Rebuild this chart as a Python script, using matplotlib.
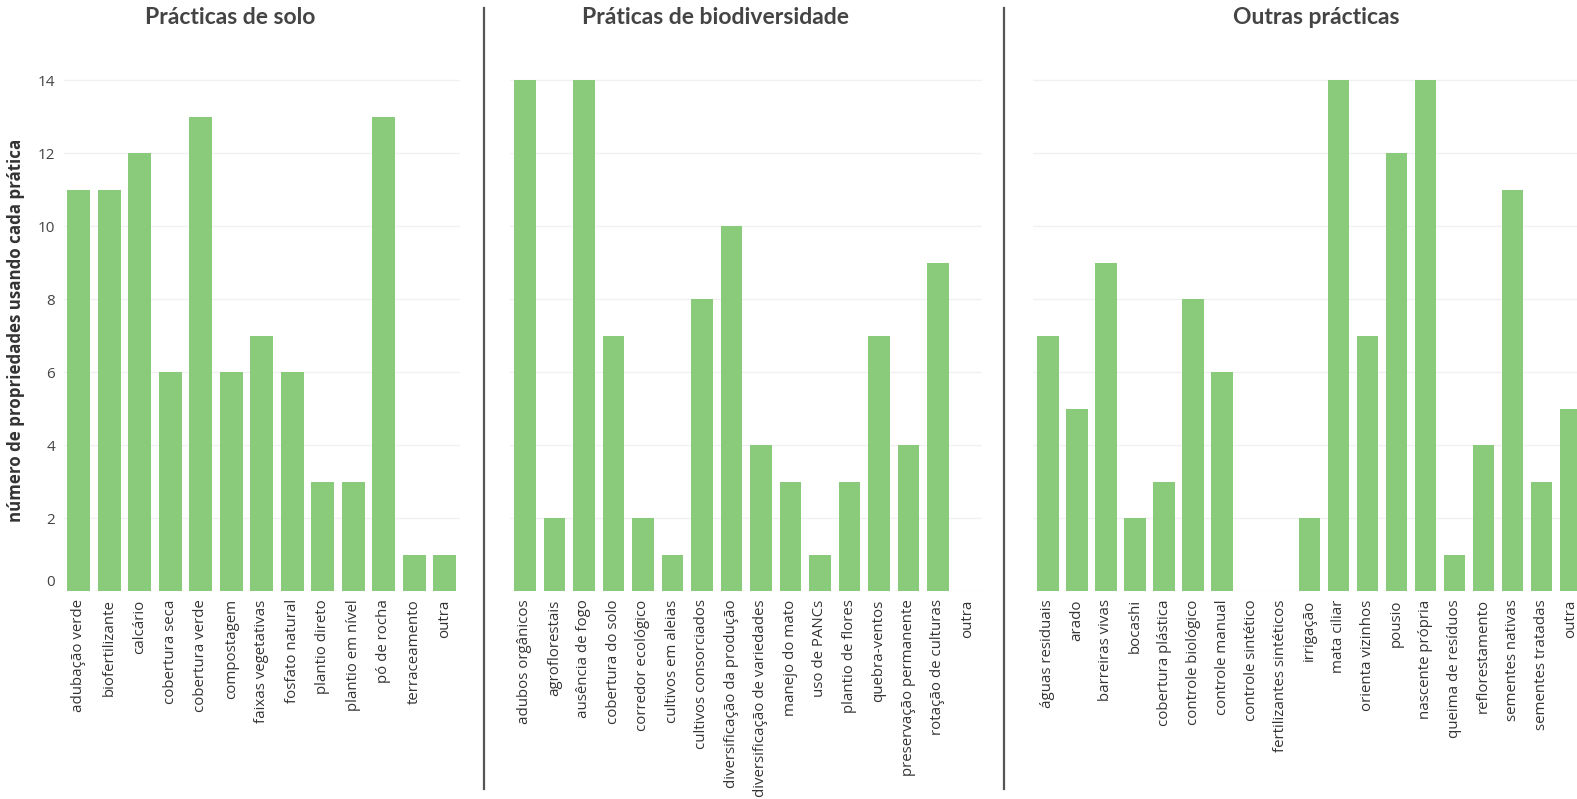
import matplotlib
matplotlib.use("Agg")
import matplotlib.pyplot as plt
from matplotlib.lines import Line2D
from matplotlib.transforms import ScaledTranslation

solo_labels = ["adubação verde", "biofertilizante", "calcário", "cobertura seca", "cobertura verde",
               "compostagem", "faixas vegetativas", "fosfato natural", "plantio direto",
               "plantio em nível", "pó de rocha", "terraceamento", "outra"]
solo_values = [11, 11, 12, 6, 13, 6, 7, 6, 3, 3, 13, 1, 1]

bio_labels = ["adubos orgânicos", "agroflorestais", "ausência de fogo", "cobertura do solo",
              "corredor ecológico", "cultivos em aleias", "cultivos consorciados",
              "diversificação da produção", "diversificação de variedades", "manejo do mato",
              "uso de PANCs", "plantio de flores", "quebra-ventos", "preservação permanente",
              "rotação de culturas", "outra"]
bio_values = [14, 2, 14, 7, 2, 1, 8, 10, 4, 3, 1, 3, 7, 4, 9, 0]

outras_labels = ["águas residuais", "arado", "barreiras vivas", "bocashi", "cobertura plástica",
                 "controle biológico", "controle manual", "controle sintético",
                 "fertilizantes sintéticos", "irrigação", "mata ciliar", "orienta vizinhos",
                 "pousio", "nascente própria", "queima de resíduos", "reflorestamento",
                 "sementes nativas", "sementes tratadas", "outra"]
outras_values = [7, 5, 9, 2, 3, 8, 6, 0, 0, 2, 14, 7, 12, 14, 1, 4, 11, 3, 5]

titles = ["Prácticas de solo", "Práticas de biodiversidade", "Outras prácticas"]
y_ticks = [0, 2, 4, 6, 8, 10, 12, 14]

W, H = 1577, 799
BAR = "#89cb7b"
GRID = "#f1f1f1"
TXT = "#444444"


def main():
    plt.rcParams.update({"font.family": ["Open Sans", "DejaVu Sans"]})
    fig = plt.figure(figsize=(W / 100, H / 100), dpi=100)
    # axes boxes in pixels: left, right
    boxes = [(63.5, 460.0), (510.2, 982.2), (1033.3, 1585.3)]
    title_x = [230, 716, 1316]
    data = [(solo_labels, solo_values), (bio_labels, bio_values), (outras_labels, outras_values)]
    bottom, top = 591, 40
    for i, ((x0, x1), (labels, values)) in enumerate(zip(boxes, data)):
        ax = fig.add_axes([x0 / W, 1 - bottom / H, (x1 - x0) / W, (bottom - top) / H])
        ax.bar(range(len(values)), values, width=0.74, color=BAR, zorder=2)
        ax.set_xlim(-0.5, len(values) - 0.5)
        ax.set_ylim(0, 15.1)
        ax.set_yticks(y_ticks)
        ax.yaxis.grid(True, color=GRID, linewidth=1, zorder=0)
        ax.set_axisbelow(True)
        for s in ax.spines.values():
            s.set_visible(False)
        ax.set_xticks(range(len(labels)))
        ax.set_xticklabels(labels, rotation=90, fontsize=10.8, color="#333333")
        ax.tick_params(axis="x", length=0, pad=6)
        ax.tick_params(axis="y", length=0, pad=6, labelsize=11, labelcolor=TXT)
        if i == 0:
            ax.set_ylabel("número de propriedades usando cada prática", fontsize=12.2,
                          fontweight="bold", color="#333333")
            ax.yaxis.set_label_coords((25 - x0) / (x1 - x0), (bottom - 330) / (bottom - top))
            fig.canvas.draw()
            lab0 = ax.get_yticklabels()[0]
            lab0.set_transform(lab0.get_transform() + ScaledTranslation(0, 10 / 100, fig.dpi_scale_trans))
        else:
            ax.set_yticklabels([])
        fig.text(title_x[i] / W, 1 - 17 / H, titles[i], ha="center", va="center",
                 fontsize=16.5, fontweight="bold", color=TXT, family=["Lato", "DejaVu Sans"])

    for xs in (484, 1004):
        fig.add_artist(Line2D([xs / W, xs / W], [1 - 8 / H, 1 - 789 / H],
                              transform=fig.transFigure, color="#555555", linewidth=1.6))

    fig.savefig("out.png", dpi=100)
    plt.close(fig)


if __name__ == "__main__":
    main()
